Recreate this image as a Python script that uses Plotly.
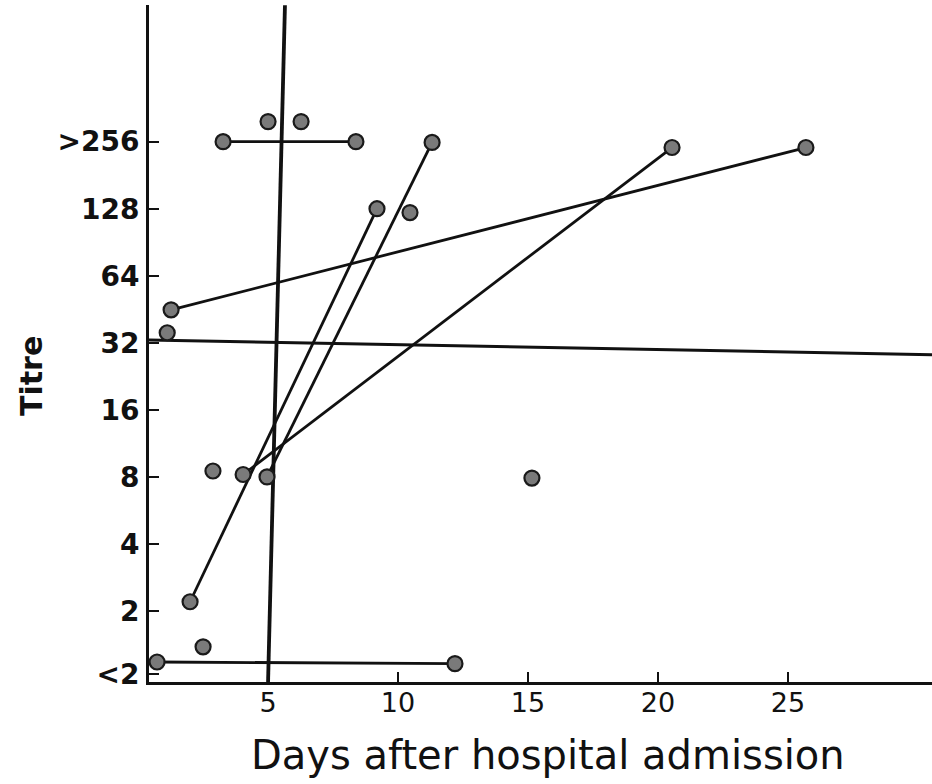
import plotly.graph_objects as go

# ---- data (titre values; days after hospital admission) ----
# connected pairs of observations
pair_x = [
    [3.27, 8.38],
    [2.0, 9.19],
    [4.96, 11.31],
    [4.04, 20.54],
    [1.27, 25.69],
    [0.73, 12.19],
]
pair_y = [
    [256, 256],
    [2.2, 128],
    [8, 254],
    [8.2, 241],
    [45, 241],
    [1.18, 1.16],
]
# single observations
single_x = [5.0, 6.27, 10.46, 1.12, 2.88, 15.15, 2.5]
single_y = [315, 315, 123, 35.5, 8.5, 7.9, 1.38]

# reference lines (as drawn)
vline_x = [5.0, 5.65]
vline_y = [0.96, 1050]
hline_x = [0.42, 30.54]
hline_y = [32.9, 28.3]

# ticks
ytick_vals = [1.04, 2, 4, 8, 16, 32, 64, 128, 256]
ytick_text = ['<2', '2', '4', '8', '16', '32', '64', '128', '>256']
xtick_vals = [5, 10, 15, 20, 25]

x_range = [0.42, 30.54]
y_range_log = [-0.018, 3.022]

INK = '#111111'
DOT = dict(size=15, color='#7a7a7a', line=dict(color='#1a1a1a', width=2.2))
fig = go.Figure()

fig.add_trace(go.Scatter(x=vline_x, y=vline_y, mode='lines',
                         line=dict(color=INK, width=3.8), hoverinfo='skip', showlegend=False))
fig.add_trace(go.Scatter(x=hline_x, y=hline_y, mode='lines',
                         line=dict(color=INK, width=3), hoverinfo='skip', showlegend=False))

for xs, ys in zip(pair_x, pair_y):
    fig.add_trace(go.Scatter(x=xs, y=ys, mode='lines+markers',
                             line=dict(color=INK, width=2.8),
                             marker=DOT, showlegend=False))

fig.add_trace(go.Scatter(x=single_x, y=single_y, mode='markers',
                         marker=DOT, showlegend=False))

fig.update_layout(
    width=932, height=784,
    margin=dict(l=149, r=0, t=5, b=102),
    paper_bgcolor='white', plot_bgcolor='white',
    font=dict(family='DejaVu Sans', color=INK),
    xaxis=dict(range=x_range, tickvals=xtick_vals, ticks='inside', ticklen=10, tickwidth=2,
               tickcolor=INK, showline=True, linecolor=INK, linewidth=2.8, showgrid=False,
               zeroline=False, tickfont=dict(size=27, color=INK), ticklabelstandoff=-5),
    yaxis=dict(type='log', range=y_range_log, tickvals=ytick_vals, ticktext=ytick_text,
               ticks='inside', ticklen=10, tickwidth=2, tickcolor=INK, showline=True,
               linecolor=INK, linewidth=2.8, showgrid=False, zeroline=False,
               tickfont=dict(size=28, color=INK, weight='bold'), ticklabelstandoff=1),
    annotations=[
        dict(text='Days after hospital admission', xref='paper', yref='paper', x=0.51, y=0,
             yshift=-73, xanchor='center', yanchor='middle', showarrow=False,
             font=dict(size=40, color=INK)),
        dict(text='Titre', xref='paper', yref='paper', x=0, y=0.452, xshift=-117,
             xanchor='center', yanchor='middle', textangle=-90, showarrow=False,
             font=dict(size=30, color=INK, weight='bold')),
    ],
)

fig.write_html('out.html')
